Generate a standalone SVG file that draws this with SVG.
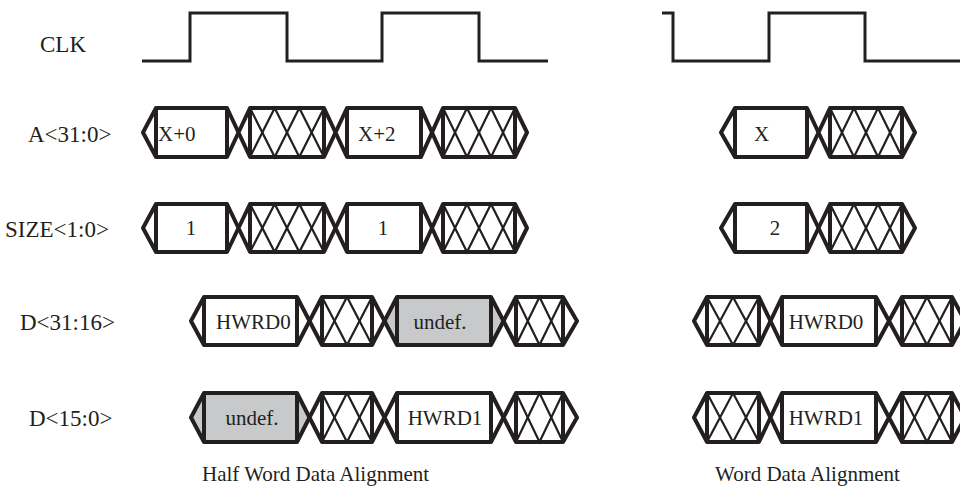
<svg xmlns="http://www.w3.org/2000/svg" width="960" height="498" viewBox="0 0 960 498">
<style>
.bg{fill:#ffffff}
.seg{fill:#ffffff;stroke:#231f20;stroke-width:4;stroke-linejoin:round}
.gray{fill:#c8c9cb}
.v{fill:none;stroke:#231f20;stroke-width:4}
.h{fill:none;stroke:#231f20;stroke-width:2.2}
.clk{fill:none;stroke:#231f20;stroke-width:3;stroke-linejoin:miter}
text{font-family:"Liberation Serif","Times New Roman",serif;font-size:21px;fill:#231f20}
.lab{font-size:23px}
.m{text-anchor:middle}
</style>
<rect class="bg" x="0" y="0" width="960" height="498"/>

<g id="labels">
<text class="lab" x="40" y="52">CLK</text>
<text class="lab" x="28" y="142">A&lt;31:0&gt;</text>
<text class="lab" x="5" y="237">SIZE&lt;1:0&gt;</text>
<text class="lab" x="20" y="330">D&lt;31:16&gt;</text>
<text class="lab" x="29" y="426">D&lt;15:0&gt;</text>
<text x="202" y="481">Half Word Data Alignment</text>
<text x="715" y="481">Word Data Alignment</text>
</g>

<g id="clk-half">
<polyline class="clk" points="142,61 190,61 190,13 287,13 287,61 382,61 382,13 479,13 479,61 548,61"/>
</g>
<g id="clk-word">
<polyline class="clk" points="662,13 673,13 673,61 769,61 769,13 865,13 865,61 960,61"/>
</g>

<!-- Half word: A<31:0> -->
<g id="a-h-1">
<polygon class="seg" points="143,132.5 156,108 227,108 238.5,132.5 227,157 156,157"/>
<path class="v" d="M156,108V157M227,108V157"/>
<text x="158" y="141">X+0</text>
</g>
<g id="a-h-2">
<polygon class="seg" points="238.5,132.5 250,108 324,108 335.5,132.5 324,157 250,157"/>
<path class="v" d="M250,108V157M324,108V157"/>
<polyline class="h" points="250,108 274.7,157 299.3,108 324,157"/>
<polyline class="h" points="250,157 274.7,108 299.3,157 324,108"/>
</g>
<g id="a-h-3">
<polygon class="seg" points="335.5,132.5 347,108 421,108 432,132.5 421,157 347,157"/>
<path class="v" d="M347,108V157M421,108V157"/>
<text x="358" y="141">X+2</text>
</g>
<g id="a-h-4">
<polygon class="seg" points="432,132.5 443,108 515,108 527,132.5 515,157 443,157"/>
<path class="v" d="M443,108V157M515,108V157"/>
<polyline class="h" points="443,108 467,157 491,108 515,157"/>
<polyline class="h" points="443,157 467,108 491,157 515,108"/>
</g>

<!-- Half word: SIZE<1:0> -->
<g id="size-h-1">
<polygon class="seg" points="143,228 156,204 227,204 238.5,228 227,252 156,252"/>
<path class="v" d="M156,204V252M227,204V252"/>
<text class="m" x="191" y="235">1</text>
</g>
<g id="size-h-2">
<polygon class="seg" points="238.5,228 250,204 324,204 335.5,228 324,252 250,252"/>
<path class="v" d="M250,204V252M324,204V252"/>
<polyline class="h" points="250,204 274.7,252 299.3,204 324,252"/>
<polyline class="h" points="250,252 274.7,204 299.3,252 324,204"/>
</g>
<g id="size-h-3">
<polygon class="seg" points="335.5,228 347,204 421,204 432,228 421,252 347,252"/>
<path class="v" d="M347,204V252M421,204V252"/>
<text class="m" x="383" y="235">1</text>
</g>
<g id="size-h-4">
<polygon class="seg" points="432,228 443,204 515,204 527,228 515,252 443,252"/>
<path class="v" d="M443,204V252M515,204V252"/>
<polyline class="h" points="443,204 467,252 491,204 515,252"/>
<polyline class="h" points="443,252 467,204 491,252 515,204"/>
</g>

<!-- Half word: D<31:16> -->
<g id="d31-h-1">
<polygon class="seg" points="191,321 204,297 297,297 309.5,321 297,345 204,345"/>
<path class="v" d="M204,297V345M297,297V345"/>
<text x="216" y="328.5">HWRD0</text>
</g>
<g id="d31-h-2">
<polygon class="seg" points="309.5,321 322,297 372,297 384.5,321 372,345 322,345"/>
<path class="v" d="M322,297V345M372,297V345"/>
<polyline class="h" points="322,297 347,345 372,297"/>
<polyline class="h" points="322,345 347,297 372,345"/>
</g>
<g id="d31-h-3">
<polygon class="seg gray" points="384.5,321 397,297 491,297 503.5,321 491,345 397,345"/>
<path class="v" d="M397,297V345M491,297V345"/>
<text class="m" x="440" y="328.5">undef.</text>
</g>
<g id="d31-h-4">
<polygon class="seg" points="503.5,321 516,297 563,297 577,321 563,345 516,345"/>
<path class="v" d="M516,297V345M563,297V345"/>
<polyline class="h" points="516,297 539.5,345 563,297"/>
<polyline class="h" points="516,345 539.5,297 563,345"/>
</g>

<!-- Half word: D<15:0> -->
<g id="d15-h-1">
<polygon class="seg gray" points="191,417.5 204,393 297,393 309.5,417.5 297,442 204,442"/>
<path class="v" d="M204,393V442M297,393V442"/>
<text class="m" x="252" y="425">undef.</text>
</g>
<g id="d15-h-2">
<polygon class="seg" points="309.5,417.5 322,393 372,393 384.5,417.5 372,442 322,442"/>
<path class="v" d="M322,393V442M372,393V442"/>
<polyline class="h" points="322,393 347,442 372,393"/>
<polyline class="h" points="322,442 347,393 372,442"/>
</g>
<g id="d15-h-3">
<polygon class="seg" points="384.5,417.5 397,393 491,393 503.5,417.5 491,442 397,442"/>
<path class="v" d="M397,393V442M491,393V442"/>
<text class="m" x="445" y="425">HWRD1</text>
</g>
<g id="d15-h-4">
<polygon class="seg" points="503.5,417.5 516,393 563,393 577,417.5 563,442 516,442"/>
<path class="v" d="M516,393V442M563,393V442"/>
<polyline class="h" points="516,393 539.5,442 563,393"/>
<polyline class="h" points="516,442 539.5,393 563,442"/>
</g>

<!-- Word: A<31:0> -->
<g id="a-w-1">
<polygon class="seg" points="721,132.5 735,108 807,108 818.5,132.5 807,157 735,157"/>
<path class="v" d="M735,108V157M807,108V157"/>
<text class="m" x="761.5" y="141">X</text>
</g>
<g id="a-w-2">
<polygon class="seg" points="818.5,132.5 830,108 902,108 915,132.5 902,157 830,157"/>
<path class="v" d="M830,108V157M902,108V157"/>
<polyline class="h" points="830,108 854,157 878,108 902,157"/>
<polyline class="h" points="830,157 854,108 878,157 902,108"/>
</g>

<!-- Word: SIZE<1:0> -->
<g id="size-w-1">
<polygon class="seg" points="721,228 735,204 807,204 818.5,228 807,252 735,252"/>
<path class="v" d="M735,204V252M807,204V252"/>
<text class="m" x="775" y="235">2</text>
</g>
<g id="size-w-2">
<polygon class="seg" points="818.5,228 830,204 902,204 915,228 902,252 830,252"/>
<path class="v" d="M830,204V252M902,204V252"/>
<polyline class="h" points="830,204 854,252 878,204 902,252"/>
<polyline class="h" points="830,252 854,204 878,252 902,204"/>
</g>

<!-- Word: D<31:16> -->
<g id="d31-w-1">
<polygon class="seg" points="694,321 707,297 759,297 770.5,321 759,345 707,345"/>
<path class="v" d="M707,297V345M759,297V345"/>
<polyline class="h" points="707,297 733,345 759,297"/>
<polyline class="h" points="707,345 733,297 759,345"/>
</g>
<g id="d31-w-2">
<polygon class="seg" points="770.5,321 782,297 876,297 889,321 876,345 782,345"/>
<path class="v" d="M782,297V345M876,297V345"/>
<text class="m" x="826" y="328.5">HWRD0</text>
</g>
<g id="d31-w-3">
<polygon class="seg" points="889,321 902,297 952,297 965,321 952,345 902,345"/>
<path class="v" d="M902,297V345M952,297V345"/>
<polyline class="h" points="902,297 927,345 952,297"/>
<polyline class="h" points="902,345 927,297 952,345"/>
</g>

<!-- Word: D<15:0> -->
<g id="d15-w-1">
<polygon class="seg" points="694,417.5 707,393 759,393 770.5,417.5 759,442 707,442"/>
<path class="v" d="M707,393V442M759,393V442"/>
<polyline class="h" points="707,393 733,442 759,393"/>
<polyline class="h" points="707,442 733,393 759,442"/>
</g>
<g id="d15-w-2">
<polygon class="seg" points="770.5,417.5 782,393 876,393 889,417.5 876,442 782,442"/>
<path class="v" d="M782,393V442M876,393V442"/>
<text class="m" x="826" y="425">HWRD1</text>
</g>
<g id="d15-w-3">
<polygon class="seg" points="889,417.5 902,393 952,393 965,417.5 952,442 902,442"/>
<path class="v" d="M902,393V442M952,393V442"/>
<polyline class="h" points="902,393 927,442 952,393"/>
<polyline class="h" points="902,442 927,393 952,442"/>
</g>
</svg>
